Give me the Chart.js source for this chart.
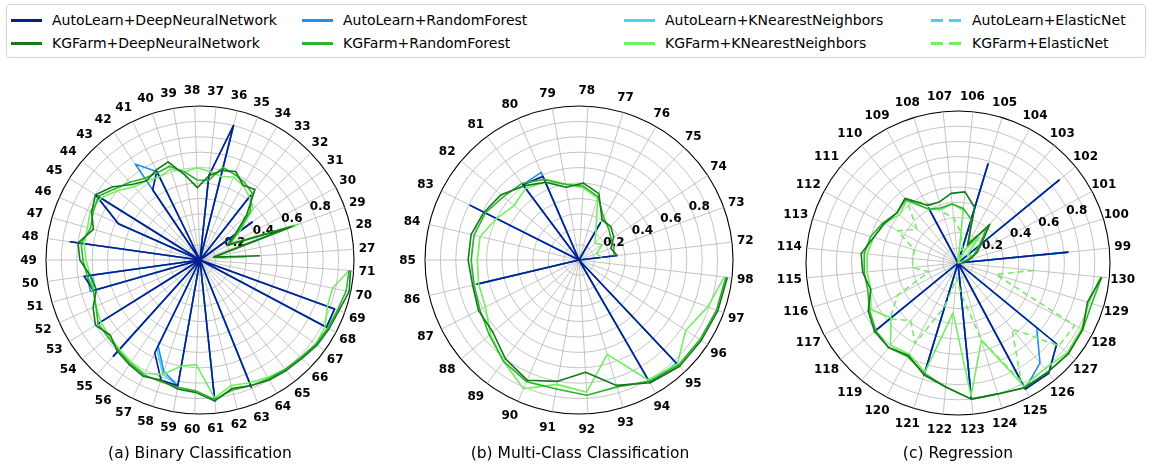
<!DOCTYPE html>
<html>
<head>
<meta charset="utf-8">
<script src="https://cdn.jsdelivr.net/npm/chart.js@4/dist/chart.umd.min.js"></script>
<style>
  html, body { margin: 0; padding: 0; background: #fff; }
  body { position: relative; width: 1152px; height: 465px; overflow: hidden; font-family: "DejaVu Sans", sans-serif; color: #000; }
  canvas.panel { position: absolute; }
  .caption { position: absolute; top: 444px; font-size: 15.5px; line-height: 18px; white-space: nowrap; transform: translateX(-50%); }
  #legend { position: absolute; left: 6px; top: 4px; width: 1140px; height: 54px; box-sizing: border-box; border: 1px solid #d4d4d4; border-radius: 4px; background: #fff; }
  .lg-item { position: absolute; height: 18px; }
  .lg-line { position: absolute; top: 7.5px; width: 31px; height: 0; border-top: 3px solid; }
  .lg-dash { position: absolute; top: 7.5px; width: 31px; height: 3px; }
  .lg-text { position: absolute; top: 0; font-size: 14px; line-height: 18px; white-space: nowrap; }
</style>
</head>
<body>
<div id="legend"></div>
<canvas id="panelA" class="panel"></canvas>
<canvas id="panelB" class="panel"></canvas>
<canvas id="panelC" class="panel"></canvas>
<div class="caption" style="left:200px">(a) Binary Classification</div>
<div class="caption" style="left:580px">(b) Multi-Class Classification</div>
<div class="caption" style="left:958px">(c) Regression</div>

<script>
// ---------- data: dataset ids per panel ----------
const labelsA = [27,28,29,30,31,32,33,34,35,36,37,38,39,40,41,42,43,44,45,46,47,48,49,50,51,52,53,54,55,56,57,58,59,60,61,62,63,64,65,66,67,68,69,70,71];
const labelsB = [72,73,74,75,76,77,78,79,80,81,82,83,84,85,86,87,88,89,90,91,92,93,94,95,96,97,98];
const labelsC = [99,100,101,102,103,104,105,106,107,108,109,110,111,112,113,114,115,116,117,118,119,120,121,122,123,124,125,126,127,128,129,130];

// radial tick labels
const radialTicks = [0.2, 0.4, 0.6, 0.8];

// ---------- (a) Binary Classification ----------
const autoDnnA = [0,0,0,0,0.42,0,0.53,0,0,0.90,0.55,0,0,0,0.64,0.55,0,0,0.80,0.58,0,0.85,0,0.76,0.72,0,0.78,0,0.84,0,0.67,0.82,0.83,0,0.92,0,0.89,0,0,0,0,0.93,0.93,0,0];
const autoRfA  = [0,0,0,0,0.42,0,0.53,0,0,0.90,0.55,0,0,0,0.64,0.75,0,0,0.80,0.58,0,0.85,0,0.74,0.74,0,0.78,0,0.84,0,0.62,0.76,0.83,0,0.92,0,0.89,0,0,0,0,0.93,0.93,0,0];
const autoKnnA = [0,0,0,0,0.42,0,0.53,0,0,0.90,0.55,0,0,0,0.64,0.55,0,0,0.80,0.58,0,0.85,0,0.70,0.72,0,0.78,0,0.84,0,0.64,0.78,0.83,0,0.92,0,0.89,0,0,0,0,0.93,0.93,0,0];
const kgDnnA   = [0.39,0.09,0.63,0.20,0.28,0.42,0.58,0.56,0.62,0.60,0.55,0.47,0.56,0.67,0.65,0.62,0.66,0.74,0.80,0.77,0.72,0.80,0.78,0.72,0.70,0.76,0.80,0.76,0.80,0.82,0.84,0.82,0.85,0.86,0.92,0.86,0.88,0.90,0.91,0.92,0.94,0.95,0.96,0.99,0.98];
const kgRfA    = [0.30,0.10,0.65,0.22,0.30,0.45,0.55,0.58,0.60,0.62,0.52,0.52,0.58,0.64,0.63,0.64,0.68,0.72,0.78,0.76,0.74,0.78,0.76,0.74,0.72,0.74,0.78,0.78,0.79,0.81,0.83,0.83,0.84,0.85,0.91,0.87,0.88,0.89,0.90,0.91,0.93,0.94,0.95,0.97,0.97];
const kgKnnA   = [0.17,0.10,0.68,0.22,0.32,0.48,0.52,0.56,0.58,0.56,0.58,0.60,0.58,0.62,0.60,0.62,0.64,0.70,0.76,0.78,0.76,0.76,0.74,0.72,0.72,0.74,0.76,0.77,0.78,0.80,0.82,0.78,0.70,0.68,0.90,0.84,0.86,0.88,0.90,0.92,0.93,0.92,0.88,0.88,0.97];

// ---------- (b) Multi-Class Classification ----------
const autoDnnB = [0.25,0,0,0,0.28,0,0,0,0.59,0.61,0,0.79,0,0,0.68,0,0,0,0,0,0,0,0.92,0.95,0,0,0];
const autoRfB  = [0.25,0,0,0,0.28,0,0,0,0.62,0.61,0,0.79,0,0,0.68,0,0,0,0,0,0,0,0.92,0.93,0,0,0];
const autoKnnB = [0.25,0,0,0,0.28,0,0,0,0.59,0.61,0,0.79,0,0,0.68,0,0,0,0,0,0,0,0.92,0.92,0,0,0];
const kgDnnB   = [0.25,0.22,0.27,0.30,0.30,0.45,0.50,0.48,0.55,0.60,0.66,0.69,0.72,0.72,0.71,0.73,0.73,0.80,0.85,0.80,0.73,0.85,0.92,0.95,0.95,0.96,0.97];
const kgRfB    = [0.23,0.24,0.25,0.28,0.32,0.43,0.48,0.50,0.57,0.62,0.64,0.68,0.70,0.70,0.70,0.72,0.76,0.82,0.86,0.85,0.88,0.86,0.91,0.94,0.94,0.95,0.96];
const kgKnnB   = [0.15,0.12,0.18,0.15,0.22,0.42,0.47,0.50,0.55,0.58,0.55,0.60,0.66,0.66,0.67,0.68,0.75,0.82,0.91,0.82,0.86,0.64,0.90,0.93,0.83,0.89,0.95];

// ---------- (c) Regression ----------
const autoDnnC = [0.73,0,0,0.86,0,0,0.68,0,0,0,0.41,0,0,0,0,0,0,0,0,0.71,0,0,0.77,0,0.90,0,0.94,0.94,0.84,0,0,0];
const autoRfC  = [0.73,0,0,0.86,0,0,0.68,0,0,0,0.41,0,0,0,0,0,0,0,0,0.71,0,0,0.77,0,0.90,0,0.94,0.85,0.67,0,0,0];
const autoKnnC = [0.73,0,0,0.86,0,0,0.68,0,0,0,0.41,0,0,0,0,0,0,0,0,0.71,0,0,0.77,0,0.90,0,0.94,0.94,0.84,0,0,0];
const autoEnC  = [0.73,0,0,0.86,0,0,0.68,0,0,0,0.41,0,0,0,0,0,0,0,0,0.71,0,0,0.77,0,0.90,0,0.94,0.94,0.84,0,0,0];
const kgDnnC   = [0.03,0.08,0.14,0.20,0.33,0.13,0.38,0.47,0.46,0.42,0.43,0.55,0.52,0.55,0.58,0.64,0.63,0.60,0.67,0.71,0.72,0.69,0.77,0.82,0.90,0.90,0.93,0.93,0.94,0.93,0.89,0.95];
const kgRfC    = [0.03,0.07,0.12,0.18,0.30,0.15,0.30,0.36,0.39,0.38,0.40,0.54,0.52,0.56,0.60,0.62,0.62,0.62,0.66,0.70,0.72,0.70,0.76,0.82,0.90,0.90,0.93,0.93,0.94,0.93,0.92,0.95];
const kgKnnC   = [0,0.05,0.10,0.08,0.22,0.10,0,0.35,0.39,0.37,0.40,0.53,0.50,0.55,0.58,0.60,0.60,0.60,0.65,0.57,0.70,0.68,0.75,0.33,0.88,0.53,0.92,0.90,0.93,0.92,0.90,0.94];
const kgEnC    = [0,0,0,0,0,0,0.10,0.20,0.30,0.35,0.45,0.53,0.35,0.45,0.30,0.30,0.30,0.20,0.45,0.58,0.49,0.60,0.30,0.10,0.20,0.53,0.88,0.56,0.86,0.87,0.26,0.50];

// ---------- series styling ----------
const SERIES = {
  autoDnn: { label: 'AutoLearn+DeepNeuralNetwork', color: '#0c1c8c', dash: [] },
  autoRf:  { label: 'AutoLearn+RandomForest',      color: '#1f8ef1', dash: [] },
  autoKnn: { label: 'AutoLearn+KNearestNeighbors', color: '#45d3f5', dash: [] },
  autoEn:  { label: 'AutoLearn+ElasticNet',        color: '#45d3f5', dash: [6, 4] },
  kgDnn:   { label: 'KGFarm+DeepNeuralNetwork',    color: '#15791b', dash: [] },
  kgRf:    { label: 'KGFarm+RandomForest',         color: '#2cb52c', dash: [] },
  kgKnn:   { label: 'KGFarm+KNearestNeighbors',    color: '#70ef5f', dash: [] },
  kgEn:    { label: 'KGFarm+ElasticNet',           color: '#70ef5f', dash: [6, 4] }
};
// bottom-to-top drawing order
const STACK = ['autoKnn', 'autoEn', 'autoRf', 'autoDnn', 'kgEn', 'kgKnn', 'kgRf', 'kgDnn'];

// ---------- legend ----------
const legendCols = [
  { x: 4,   top: 'autoDnn', bottom: 'kgDnn' },
  { x: 295, top: 'autoRf',  bottom: 'kgRf' },
  { x: 617, top: 'autoKnn', bottom: 'kgKnn' },
  { x: 924, top: 'autoEn',  bottom: 'kgEn' }
];
const legendEl = document.getElementById('legend');
function legendItem(key, x, y) {
  const s = SERIES[key];
  const item = document.createElement('div');
  item.className = 'lg-item';
  item.style.left = x + 'px';
  item.style.top = y + 'px';
  const sw = document.createElement('div');
  if (s.dash.length) {
    sw.className = 'lg-dash';
    sw.style.background = `linear-gradient(to right, ${s.color} 0 12px, transparent 12px 18px, ${s.color} 18px 30px, transparent 30px)`;
  } else {
    sw.className = 'lg-line';
    sw.style.borderTopColor = s.color;
  }
  sw.style.left = '0px';
  const tx = document.createElement('div');
  tx.className = 'lg-text';
  tx.style.left = '41px';
  tx.textContent = s.label;
  item.appendChild(sw);
  item.appendChild(tx);
  legendEl.appendChild(item);
}
legendCols.forEach(c => { legendItem(c.top, c.x, 6); legendItem(c.bottom, c.x, 29); });

// ---------- polar text (category ids + radial ticks) ----------
const polarText = {
  id: 'polarText',
  beforeDatasetsDraw(chart) {
    const s = chart.scales.r;
    const ctx = chart.ctx;
    ctx.save();
    ctx.fillStyle = '#000';
    ctx.textAlign = 'center';
    ctx.textBaseline = 'middle';
    ctx.font = 'bold 12px "DejaVu Sans"';
    const a = 22.5 * Math.PI / 180;
    radialTicks.forEach(v => {
      const d = s.getDistanceFromCenterForValue(v);
      ctx.fillText(v.toFixed(1), s.xCenter + d * Math.cos(a) + 6.5, s.yCenter - d * Math.sin(a) - 5.5);
    });
    const labels = chart.data.labels;
    labels.forEach((lab, j) => {
      const p = s.getPointPosition(j, s.drawingArea + 15.5);
      ctx.fillText(String(lab), p.x - 2, p.y + 0.5);
    });
    ctx.restore();
  }
};

// Matplotlib-style polar order: counter-clockwise from east with a half-step offset.
// Chart.js walks clockwise from north, so ids are reversed and the start angle shifted.
function reversedWithGap(arr) {
  const out = arr.slice().reverse();
  out.push(null);   // trailing gap keeps each trace open (no closing segment)
  return out;
}

function drawPanel(canvasId, cx, cy, R, labels, seriesMap) {
  const size = 2 * R + 76;
  const pad = 38;
  const cv = document.getElementById(canvasId);
  cv.width = size; cv.height = size;
  cv.style.width = size + 'px'; cv.style.height = size + 'px';
  cv.style.left = (cx - size / 2) + 'px';
  cv.style.top = (cy - size / 2) + 'px';
  const N = labels.length;
  const step = 360 / N;
  const datasets = [];
  STACK.forEach((key, k) => {
    if (!seriesMap[key]) return;
    const s = SERIES[key];
    datasets.push({
      label: s.label,
      data: reversedWithGap(seriesMap[key]),
      borderColor: s.color,
      backgroundColor: s.color,
      borderWidth: 1.6,
      borderDash: s.dash,
      borderJoinStyle: 'round',
      borderCapStyle: 'butt',
      pointRadius: 0,
      pointHoverRadius: 0,
      fill: false,
      tension: 0,
      spanGaps: false,
      order: STACK.length - k
    });
  });
  new Chart(cv, {
    type: 'radar',
    data: { labels: labels.slice().reverse(), datasets },
    options: {
      responsive: false,
      animation: false,
      devicePixelRatio: 1,
      layout: { padding: pad },
      plugins: { legend: { display: false }, tooltip: { enabled: false } },
      scales: {
        r: {
          min: 0, max: 1,
          startAngle: 90 + step / 2,
          ticks: { display: false, stepSize: 0.1 },
          pointLabels: { display: false },
          grid: {
            circular: true,
            color: c => (c.tick && c.tick.value > 0.999) ? '#000' : '#b5b5b5',
            lineWidth: c => (c.tick && c.tick.value > 0.999) ? 1.1 : 0.8
          },
          angleLines: { display: true, color: '#b5b5b5', lineWidth: 0.8 }
        }
      }
    },
    plugins: [polarText]
  });
}

drawPanel('panelA', 200, 260, 154, labelsA,
  { autoDnn: autoDnnA, autoRf: autoRfA, autoKnn: autoKnnA, kgDnn: kgDnnA, kgRf: kgRfA, kgKnn: kgKnnA });
drawPanel('panelB', 579, 260, 154, labelsB,
  { autoDnn: autoDnnB, autoRf: autoRfB, autoKnn: autoKnnB, kgDnn: kgDnnB, kgRf: kgRfB, kgKnn: kgKnnB });
drawPanel('panelC', 958, 263, 152, labelsC,
  { autoDnn: autoDnnC, autoRf: autoRfC, autoKnn: autoKnnC, autoEn: autoEnC, kgDnn: kgDnnC, kgRf: kgRfC, kgKnn: kgKnnC, kgEn: kgEnC });
</script>
</body>
</html>
